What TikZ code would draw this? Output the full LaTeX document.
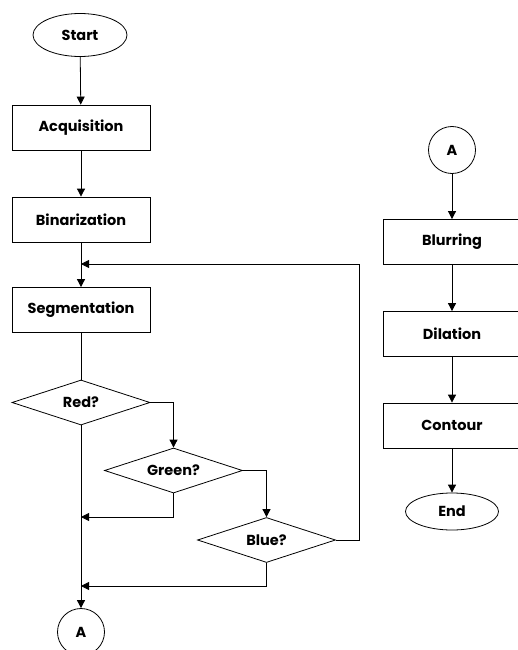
\documentclass[tikz,border=0pt]{standalone}
\usepackage{fontspec}
\setmainfont{Poppins}
\usetikzlibrary{shapes.geometric,arrows.meta}

\begin{document}
\begin{tikzpicture}[x=1pt,y=-1pt,line width=0.8pt,
  >={Triangle[length=8pt,width=8pt]},
  every node/.style={font=\fontsize{14.5}{16}\selectfont\bfseries,inner sep=0pt},
  box/.style={draw,rectangle,minimum width=138pt,minimum height=45pt},
  test/.style={draw,diamond,minimum width=138pt,minimum height=45pt,aspect=3},
  term/.style={draw,ellipse,minimum width=94pt,minimum height=43pt},
  conn/.style={draw,circle,minimum size=47pt}]
\useasboundingbox (0,0) rectangle (518,650);
% main column
\node[term] (start) at (80,35) {Start};
\node[box] (acq) at (81,127.5) {Acquisition};
\node[box] (bin) at (81,219.5) {Binarization};
\node[box] (seg) at (81,310) {Segmentation};
\node[test] (red) at (81,402.5) {Red?};
\node[test] (green) at (173.5,470.5) {Green?};
\node[test] (blue) at (266.5,540) {Blue?};
\node[conn] (a1) at (81,632) {A};
\coordinate (j1) at (81,264);
\coordinate (j2) at (81,517);
\coordinate (j3) at (81,586);
\path[draw,->] (start) -- (acq);
\path[draw,->] (acq) -- (bin);
\path[draw,->] (bin) -- (seg);
\path[draw] (seg) -- (red);
\path[draw,->] (red.east) -| (green.north);
\path[draw,->] (green.east) -| (blue.north);
\path[draw,->] (blue.east) -- ++(23,0) |- (j1);
\path[draw,->] (green.south) |- (j2);
\path[draw,->] (blue.south) |- (j3);
\path[draw,->] (red.south) -- (a1);
% second column
\node[conn] (a2) at (452,150) {A};
\node[box] (blur) at (452,242) {Blurring};
\node[box] (dil) at (452,334) {Dilation};
\node[box] (cont) at (452,425.5) {Contour};
\node[term,minimum width=93pt,minimum height=37pt] (end) at (452,511.5) {End};
\path[draw,->] (a2) -- (blur);
\path[draw,->] (blur) -- (dil);
\path[draw,->] (dil) -- (cont);
\path[draw,->] (cont) -- (end);
\end{tikzpicture}
\end{document}
